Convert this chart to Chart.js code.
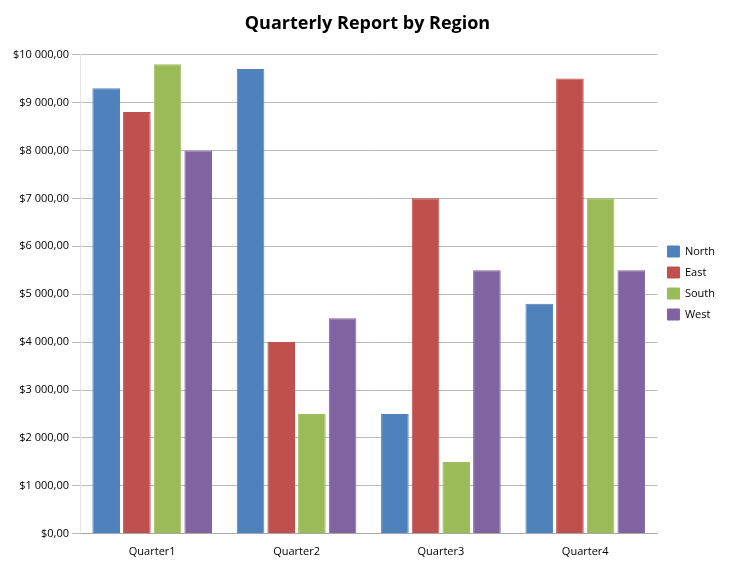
<!DOCTYPE html>
<html><head><meta charset="utf-8">
<script src="https://cdn.jsdelivr.net/npm/chart.js@4"></script>
<style>body{margin:0;background:#fff}#w{width:735px;height:571px}</style>
</head><body><div id="w"><canvas id="c"></canvas></div>
<script>
const categories = ["Quarter1","Quarter2","Quarter3","Quarter4"];
const north = [9300, 9700, 2500, 4800];
const east = [8800, 4000, 7000, 9500];
const south = [9800, 2500, 1500, 7000];
const west = [8000, 4500, 5500, 5500];
const seriesNames = ["North","East","South","West"];
const colors = ["#4f81bd","#c0504d","#9bbb59","#8064a2"];
const fmt = v => "$" + Math.round(v).toString().replace(/\B(?=(\d{3})+(?!\d))/g, " ") + ",00";
new Chart(document.getElementById("c"), {
  type: "bar",
  data: {
    labels: categories,
    datasets: [north, east, south, west].map((d, i) => ({
      label: seriesNames[i], data: d, backgroundColor: colors[i],
      borderColor: colors[i], borderWidth: 1
    }))
  },
  options: {
    responsive: true, maintainAspectRatio: false, animation: false,
    layout: {padding: {left: 10, right: 10, top: 5, bottom: 10}},
    plugins: {
      title: {display: true, text: "Quarterly Report by Region", color: "#000",
        font: {family: "Open Sans", size: 18, weight: "bold"}, padding: {top: 8, bottom: 20}},
      legend: {position: "right", labels: {color: "#000", font: {family: "Open Sans", size: 11}, boxWidth: 12}}
    },
    scales: {
      x: {grid: {display: false}, ticks: {color: "#000", font: {family: "Open Sans", size: 11}}},
      y: {min: 0, max: 10000, ticks: {stepSize: 1000, callback: fmt, color: "#000", font: {family: "Open Sans", size: 11}},
        grid: {color: "#bbb"}}
    },
    datasets: {bar: {categoryPercentage: 0.85, barPercentage: 0.9}}
  }
});
</script></body></html>
